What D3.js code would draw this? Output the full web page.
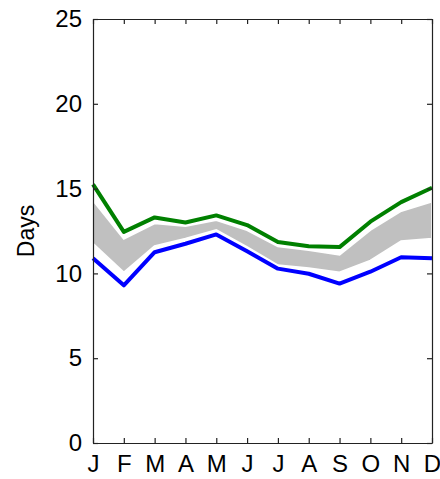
<!DOCTYPE html>
<html>
<head>
<meta charset="utf-8">
<script src="https://cdn.jsdelivr.net/npm/d3@7"></script>
<style>
  html, body { margin: 0; padding: 0; background: #fff; }
  svg { display: block; }
  text { font-family: "Liberation Sans", Arial, Helvetica, sans-serif; }
</style>
</head>
<body>
<svg id="chart" width="440" height="479"></svg>
<script>
const months = ["J","F","M","A","M","J","J","A","S","O","N","D"];
const yTicks = [0, 5, 10, 15, 20, 25];
const greenSeries = [15.25, 12.45, 13.3, 13.0, 13.42, 12.85, 11.85, 11.6, 11.55, 13.05, 14.2, 15.05];
const blueSeries  = [10.9, 9.3, 11.25, 11.75, 12.3, 11.3, 10.28, 9.98, 9.4, 10.1, 10.95, 10.9];
const bandUpper   = [14.3, 12.05, 12.95, 12.8, 13.15, 12.55, 11.6, 11.38, 11.1, 12.56, 13.68, 14.23];
const bandLower   = [11.75, 10.05, 11.6, 12.05, 12.55, 11.55, 10.48, 10.3, 10.05, 10.75, 11.9, 12.05];

const W = 440, H = 479;
const m = {left: 93, right: 8, top: 19, bottom: 36};
const svg = d3.select("#chart");

const idx = d3.range(months.length);
const x = d3.scaleLinear().domain([0, months.length - 1]).range([m.left, W - m.right]);
const y = d3.scaleLinear().domain([0, 25]).range([H - m.bottom, m.top]);

// gray band
const area = d3.area()
  .x(i => x(i))
  .y0(i => y(bandLower[i]))
  .y1(i => y(bandUpper[i]));
svg.append("path")
  .datum(idx)
  .attr("d", area)
  .attr("fill", "#c0c0c0")
  .attr("stroke", "#fff")
  .attr("stroke-width", 2);

const line = arr => d3.line().x(i => x(i)).y(i => y(arr[i]))(idx);

svg.append("path").attr("d", line(greenSeries))
  .attr("fill", "none").attr("stroke", "#008000").attr("stroke-width", 4)
  .attr("stroke-linejoin", "round");
svg.append("path").attr("d", line(blueSeries))
  .attr("fill", "none").attr("stroke", "#0000ff").attr("stroke-width", 4)
  .attr("stroke-linejoin", "round");

// axes (ticks inward, mirrored)
const tl = 5;
const axB = svg.append("g").attr("transform", `translate(0,${H - m.bottom})`)
  .call(d3.axisBottom(x).tickValues(idx).tickFormat(i => months[i]).tickSizeInner(-tl).tickSizeOuter(0).tickPadding(12));
const axT = svg.append("g").attr("transform", `translate(0,${m.top})`)
  .call(d3.axisTop(x).tickValues(idx).tickFormat("").tickSizeInner(-tl).tickSizeOuter(0));
const axL = svg.append("g").attr("transform", `translate(${m.left},0)`)
  .call(d3.axisLeft(y).tickValues(yTicks).tickFormat(d3.format("d")).tickSizeInner(-tl).tickSizeOuter(0).tickPadding(11));
const axR = svg.append("g").attr("transform", `translate(${W - m.right},0)`)
  .call(d3.axisRight(y).tickValues(yTicks).tickFormat("").tickSizeInner(-tl).tickSizeOuter(0));

[axB, axT, axL, axR].forEach(g => {
  g.select(".domain").attr("stroke", "#222").attr("stroke-width", 1.2);
  g.selectAll(".tick line").attr("stroke", "#222").attr("stroke-width", 1.2);
  g.selectAll(".tick text").attr("fill", "#000").style("font-size", "24px")
    .style("font-family", '"Liberation Sans", Arial, sans-serif');
});

svg.append("text")
  .attr("transform", `translate(34,${(m.top + H - m.bottom) / 2}) rotate(-90)`)
  .attr("text-anchor", "middle")
  .style("font-size", "23px")
  .text("Days");
</script>
</body>
</html>
